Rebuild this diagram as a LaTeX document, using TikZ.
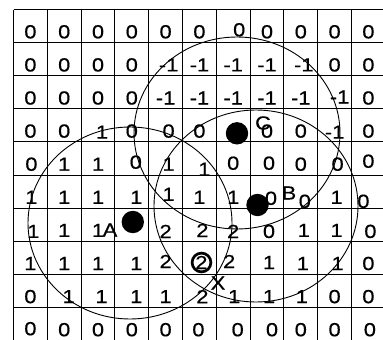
\documentclass[tikz,border=0pt]{standalone}
\usepackage{fontspec}
\setmainfont{Liberation Sans}[FakeStretch=1.15,FakeBold=0.5]
\newcommand\cellnum[5]{\node[num] (n#1-#2) at ({30.4+33.8*#2+#4},{31.8+33.1*#1+#5}) {#3};}
\begin{document}
\begin{tikzpicture}[x=1pt,y=-1pt,
  num/.style={inner sep=0pt,font=\fontsize{19}{20}\selectfont},
  gridline/.style={line width=0.9pt},
  bigring/.style={line width=0.9pt},
  dot/.style={circle,fill=black,minimum size=22.4pt,inner sep=0pt},
  lbl/.style={inner sep=0pt,font=\fontsize{19}{20}\selectfont}]
\useasboundingbox (0,0) rectangle (383,340);
\clip (0,0) rectangle (383,340);
\fill[white] (0,0) rectangle (383,340);
% grid
\foreach \i in {0,...,11} \draw[gridline] ({13.5+33.8*\i},9.5) -- ({13.5+33.8*\i},350);
\foreach \j in {0,...,10} \draw[gridline] (13.5,{9.5+33.1*\j}) -- (395,{9.5+33.1*\j});
% row 0
\foreach \c/\v/\dx/\dy in {0/0/0/0,1/0/0/0,2/0/0/0,3/0/0/0,4/0/0/0,5/0/0/0,6/0/6/-2,7/0/0/0,8/0/0/0,9/0/0/0,10/0/0/0}{\cellnum{0}{\c}{\v}{\dx}{\dy}}
% row 1
\foreach \c/\v/\dx/\dy in {0/0/0/0,1/0/0/0,2/0/0/0,3/0/0/0,4/-1/3/0,5/-1/0/0,6/-1/0/0,7/-1/0/0,8/-1/3/0,9/0/0/0,10/0/0/0}{\cellnum{1}{\c}{\v}{\dx}{\dy}}
% row 2
\foreach \c/\v/\dx/\dy in {0/0/0/0,1/0/0/0,2/0/0/0,3/0/0/0,4/-1/0/0,5/-1/0/0,6/-1/0/0,7/-1/0/0,8/-1/0/0,9/-1/5/-1,10/0/0/0}{\cellnum{2}{\c}{\v}{\dx}{\dy}}
% row 3
\foreach \c/\v/\dx/\dy in {0/0/0/0,1/0/0/0,2/1/4/1,3/0/0/0,4/0/3/0,5/0/0/0,7/0/0/0,8/0/0/0,9/-1/0/1,10/0/0/0}{\cellnum{3}{\c}{\v}{\dx}{\dy}}
% row 4
\foreach \c/\v/\dx/\dy in {0/0/1/0,1/1/0/0,2/1/0/0,3/0/4/-2,4/1/3/0,5/1/5/5,6/0/0/-1,7/0/2/-1,8/0/0/0,9/0/3/0,10/0/0/-3}{\cellnum{4}{\c}{\v}{\dx}{\dy}}
% row 5
\foreach \c/\v/\dx/\dy in {0/1/1/0,1/1/0/0,2/1/0/0,3/1/4.5/0,4/1/3/-3,5/1/0/0,6/1/0/0,7/0/4/1,8/0/4/4,9/1/2/0,10/0/-5/4}{\cellnum{5}{\c}{\v}{\dx}{\dy}}
% row 6
\foreach \c/\v/\dx/\dy in {0/1/3/1,1/1/0/0,2/1/0/0,4/2/0/1,5/2/3/0,6/2/0/1,7/0/2/1,8/1/3/0,9/1/2/0,10/0/2/1}{\cellnum{6}{\c}{\v}{\dx}{\dy}}
% row 7
\foreach \c/\v/\dx/\dy in {0/1/0/0,1/1/0/0,2/1/0/0,3/1/4.5/0,4/2/0/-2,5/2/2/-1,6/2/-4/-2,7/1/2/-1,8/1/2/0,9/1/3/0,10/0/0/0}{\cellnum{7}{\c}{\v}{\dx}{\dy}}
% row 8
\foreach \c/\v/\dx/\dy in {0/0/0/0,1/1/4.5/0,2/1/3.5/0,3/1/4.5/0,4/1/0/0,5/2/3/0,6/1/1/0,7/1/2/0,8/1/1/0,9/0/0/0,10/0/0/0}{\cellnum{8}{\c}{\v}{\dx}{\dy}}
% row 9
\foreach \c/\v/\dx/\dy in {0/0/0/-1,1/0/0/0,2/0/0/0,3/0/0/0,4/0/0/0,5/0/-1/0,6/0/4.5/0,7/0/5/0,8/0/0/0,9/0/0/0,10/0/1.5/0}{\cellnum{9}{\c}{\v}{\dx}{\dy}}
% circled 2
\node[circle,draw,line width=2.7pt,minimum size=18.8pt,inner sep=0pt] (ring) at (201.5,262.5) {};
% big circles
\coordinate (cA) at (130,223);
\coordinate (cB) at (256,206);
\coordinate (cC) at (237,133);
\draw[bigring] (cA) ellipse [x radius=102pt, y radius=96pt];
\draw[bigring] (cB) ellipse [x radius=102pt, y radius=96pt];
\draw[bigring] (cC) ellipse [x radius=103pt, y radius=96pt];
% dots
\node[dot] (dA) at (132.8,222) {};
\node[dot] (dB) at (257.5,205) {};
\node[dot] (dC) at (237,133.3) {};
% labels
\node[lbl] (lA) at (110,230) {A};
\node[lbl] (lB) at (289,193) {B};
\node[lbl] (lC) at (263,123) {C};
\node[lbl] (lX) at (218,283) {X};
\end{tikzpicture}
\end{document}
